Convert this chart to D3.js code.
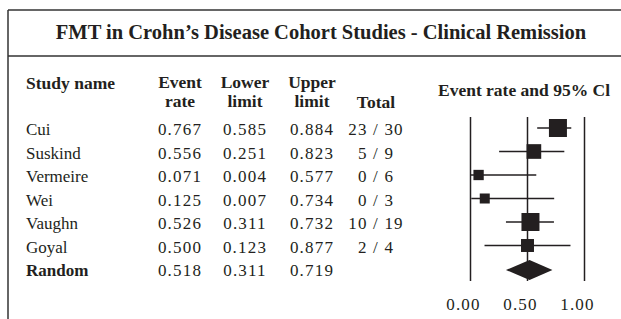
<!DOCTYPE html>
<html>
<head>
<meta charset="utf-8">
<script src="https://cdn.jsdelivr.net/npm/d3@7"></script>
<style>
  body { margin: 0; background: #fff; }
  svg text { font-family: "Liberation Serif", "Times New Roman", serif; fill: #231f20; }
</style>
</head>
<body>
<div class="d3"></div>
<script>
var title = "FMT in Crohn\u2019s Disease Cohort Studies - Clinical Remission";
var studies = ["Cui", "Suskind", "Vermeire", "Wei", "Vaughn", "Goyal"];
var eventRate = [0.767, 0.556, 0.071, 0.125, 0.526, 0.500];
var lowerLimit = [0.585, 0.251, 0.004, 0.007, 0.311, 0.123];
var upperLimit = [0.884, 0.823, 0.577, 0.734, 0.732, 0.877];
var totals = ["23 / 30", "5 / 9", "0 / 6", "0 / 3", "10 / 19", "2 / 4"];
var weights = [26.2, 17.4, 8.6, 8.1, 26.2, 13.6];
var pooled = {name: "Random", rate: 0.518, lower: 0.311, upper: 0.719};
var xTicks = [0, 0.5, 1];

var width = 621, height = 319;

var svg = d3.select(".d3").append("svg")
    .attr("width", width)
    .attr("height", height);

// frame: top, left, and line under the title
var frame = svg.append("g").attr("stroke", "#333").attr("stroke-width", 1.5);
frame.append("line").attr("x1", 8).attr("x2", width).attr("y1", 10).attr("y2", 10);
frame.append("line").attr("x1", 8).attr("x2", 8).attr("y1", 10).attr("y2", height);
frame.append("line").attr("x1", 8).attr("x2", width).attr("y1", 56).attr("y2", 56);

svg.append("text")
    .attr("x", 321).attr("y", 39)
    .attr("text-anchor", "middle")
    .style("font-size", "20.5px").style("font-weight", "bold")
    .text(title);

var rows = studies.map(function(s, i) {
  return {name: s, rate: eventRate[i], lower: lowerLimit[i], upper: upperLimit[i], total: totals[i], w: weights[i]};
});

var y = d3.scalePoint()
    .domain(studies.concat([pooled.name]))
    .range([129, 270]);

// table columns
var cols = [
  {x: 26, anchor: "start", head: ["Study name"], f: function(d) { return d.name; }},
  {x: 180, anchor: "middle", head: ["Event", "rate"], f: function(d) { return d.rate.toFixed(3); }},
  {x: 245, anchor: "middle", head: ["Lower", "limit"], f: function(d) { return d.lower.toFixed(3); }},
  {x: 312, anchor: "middle", head: ["Upper", "limit"], f: function(d) { return d.upper.toFixed(3); }},
  {x: 376, anchor: "middle", head: ["Total"], f: function(d) { return d.total || ""; }}
];

cols.forEach(function(c, ci) {
  var h = svg.append("text")
      .attr("text-anchor", c.anchor)
      .style("font-size", "17.5px").style("font-weight", "bold");
  c.head.forEach(function(line, li) {
    var yy = ci == 0 ? 89 : (c.head.length == 1 ? 108 : 88 + li * 19);
    h.append("tspan").attr("x", c.x).attr("y", yy).text(line);
  });

  svg.selectAll(null)
      .data(rows.concat([pooled]))
    .enter().append("text")
      .attr("x", c.x)
      .attr("y", function(d) { return y(d.name) + 6; })
      .attr("text-anchor", c.anchor)
      .style("font-size", "17px")
      .style("letter-spacing", ci == 0 ? null : "1.2px")
      .style("font-weight", function(d) { return d === pooled && ci == 0 ? "bold" : null; })
      .text(c.f);
});

// forest plot
var x = d3.scaleLinear()
    .domain([0, 1])
    .range([470.5, 584.5]);

var side = d3.scaleSqrt()
    .domain([0, d3.max(weights)])
    .range([0, 18]);

svg.append("text")
    .attr("x", 524).attr("y", 96)
    .attr("text-anchor", "middle")
    .style("font-size", "17.5px").style("font-weight", "bold")
    .text("Event rate and 95% Cl");

svg.append("g").selectAll("line")
    .data(xTicks)
  .enter().append("line")
    .attr("x1", x).attr("x2", x)
    .attr("y1", 117).attr("y2", 281)
    .attr("stroke", "#231f20").attr("stroke-width", 1.5);

svg.append("g").selectAll("text")
    .data(xTicks)
  .enter().append("text")
    .attr("x", function(d) { return x(d) - 7; })
    .attr("y", 310)
    .attr("text-anchor", "middle")
    .style("font-size", "17px")
    .style("letter-spacing", "1.2px")
    .text(function(d) { return d.toFixed(2); });

var study = svg.append("g").selectAll("g")
    .data(rows)
  .enter().append("g");

study.append("line")
    .attr("x1", function(d) { return x(d.lower); })
    .attr("x2", function(d) { return x(d.upper); })
    .attr("y1", function(d) { return y(d.name) - 1; })
    .attr("y2", function(d) { return y(d.name) - 1; })
    .attr("stroke", "#231f20").attr("stroke-width", 1.3);

study.append("rect")
    .attr("x", function(d) { return x(d.rate) - side(d.w) / 2; })
    .attr("y", function(d) { return y(d.name) - 1 - side(d.w) / 2; })
    .attr("width", function(d) { return side(d.w); })
    .attr("height", function(d) { return side(d.w); })
    .attr("fill", "#231f20");

svg.append("path")
    .datum(pooled)
    .attr("d", function(d) {
      var cy = y(d.name);
      return "M" + x(d.lower) + "," + cy + "L" + x(d.rate) + "," + (cy - 10) +
             "L" + x(d.upper) + "," + cy + "L" + x(d.rate) + "," + (cy + 10) + "Z";
    })
    .attr("fill", "#231f20");
</script>
</body>
</html>
